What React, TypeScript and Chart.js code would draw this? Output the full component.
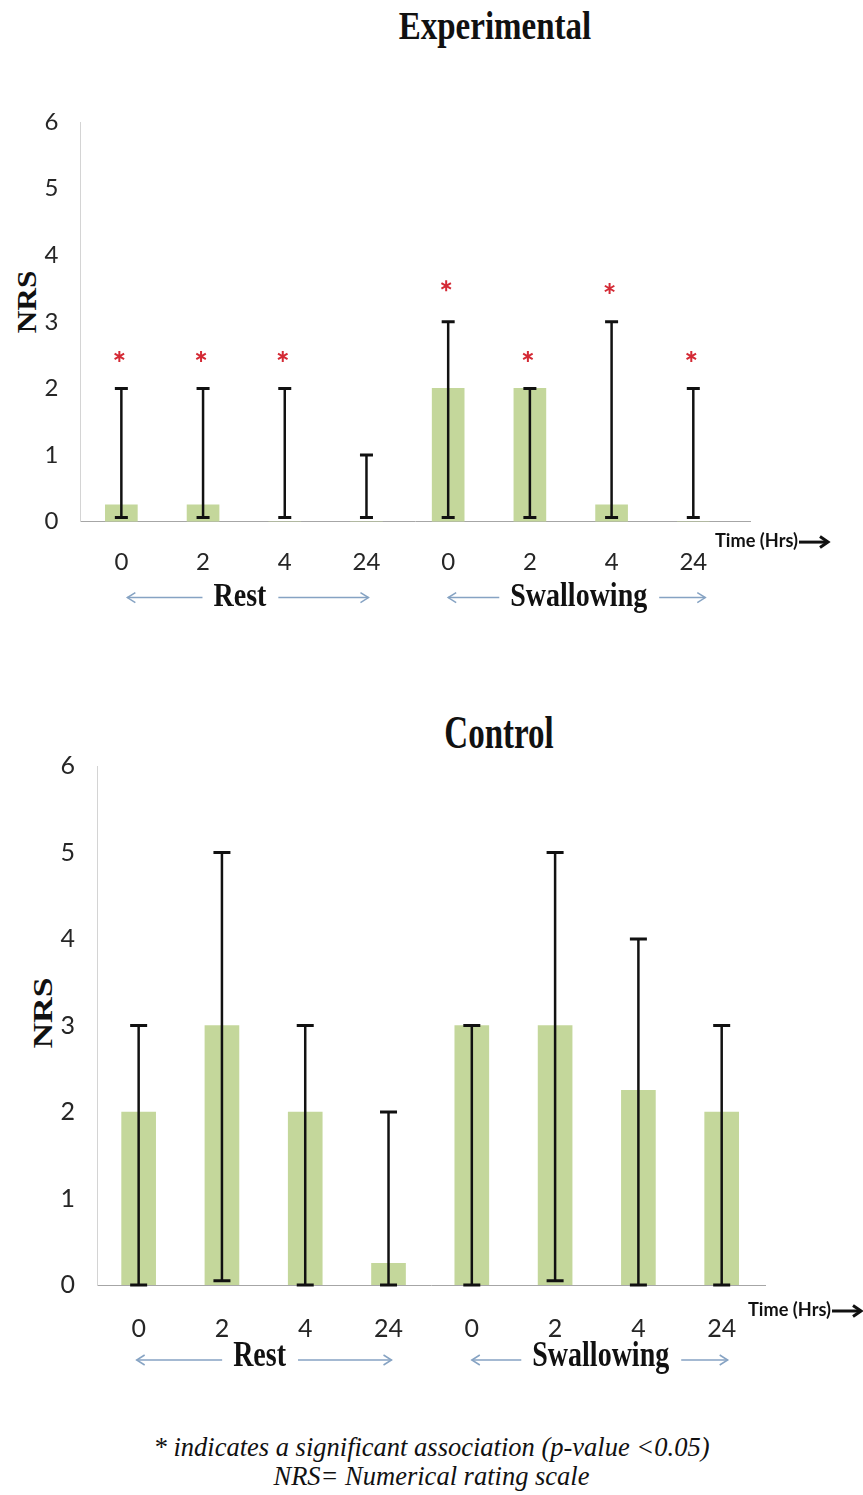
import React, { useEffect, useRef } from 'react';
import { Chart, registerables } from 'chart.js';

Chart.register(...registerables);

// ---------- data ----------
const timeLabels = ['0', '2', '4', '24', '0', '2', '4', '24'];
const groupNames = ['Rest', 'Swallowing'];
const groupStart = [0, 4];
const groupEnd = [3, 7];
const yTickValues = [0, 1, 2, 3, 4, 5, 6];

const expMeans = [0.25, 0.25, 0, 0, 2, 2, 0.25, 0];
const expErrLow = [0.06, 0.06, 0.06, 0.06, 0.06, 0.06, 0.06, 0.06];
const expErrHigh = [2, 2, 2, 1, 3, 2, 3, 2];
const expStars: (number | null)[] = [2.48, 2.48, 2.48, null, 3.54, 2.48, 3.5, 2.48];

const ctrlMeans = [2, 3, 2, 0.25, 3, 3, 2.25, 2];
const ctrlErrLow = [0, 0.05, 0, 0, 0, 0.05, 0, 0];
const ctrlErrHigh = [3, 5, 3, 2, 3, 5, 4, 3];
const ctrlStars: (number | null)[] = [null, null, null, null, null, null, null, null];

// ---------- styling / layout ----------
const BAR_COLOR = '#c4d79b';
const ARROW_COLOR = '#86a3c3';
const STAR_COLOR = '#d42a35';

type PanelCfg = {
  name: string;
  top: number;
  height: number;
  plotLeft: number;
  plotTop: number;
  plotBottom: number;
  plotRight: number;
  xMax: number;
  means: number[];
  low: number[];
  high: number[];
  stars: (number | null)[];
  barWidth: number;
  capWidth: number;
  tickFont: number;
  tickPadX: number;
  tickPadY: number;
  groupDx: number[];
  tipL: number[];
  tipR: number[];
  groupTextDy: number;
  groupArrowDy: number;
  groupScaleY: number;
  timeDx: number;
  timeDy: number;
};

const W = 863;

const expCfg: PanelCfg = {
  name: 'exp',
  top: 100,
  height: 520,
  plotLeft: 80.5,
  plotTop: 22,
  plotBottom: 421.6,
  plotRight: 750,
  xMax: 7.694,
  means: expMeans,
  low: expErrLow,
  high: expErrHigh,
  stars: expStars,
  barWidth: 32,
  capWidth: 13,
  tickFont: 24,
  tickPadX: 26,
  tickPadY: 22,
  groupDx: [-4, 8],
  tipL: [6, 0],
  tipR: [2, 12],
  groupTextDy: 74,
  groupArrowDy: 76,
  groupScaleY: 1.2,
  timeDx: -35,
  timeDy: 19.5,
};

const ctrlCfg: PanelCfg = {
  name: 'ctrl',
  top: 740,
  height: 660,
  plotLeft: 97,
  plotTop: 26,
  plotBottom: 545,
  plotRight: 765,
  xMax: 7.52,
  means: ctrlMeans,
  low: ctrlErrLow,
  high: ctrlErrHigh,
  stars: ctrlStars,
  barWidth: 34,
  capWidth: 17,
  tickFont: 25,
  tickPadX: 29,
  tickPadY: 22,
  groupDx: [-4, 4],
  tipL: [-2, 0],
  tipR: [3, 6],
  groupTextDy: 70,
  groupArrowDy: 75,
  groupScaleY: 1.25,
  timeDx: -17,
  timeDy: 25,
};

function drawArrowHead(ctx: CanvasRenderingContext2D, x: number, y: number, dir: number, len: number, half: number) {
  ctx.beginPath();
  ctx.moveTo(x - dir * len, y - half);
  ctx.lineTo(x, y);
  ctx.lineTo(x - dir * len, y + half);
  ctx.stroke();
}

function makePlugin(cfg: PanelCfg) {
  return {
    id: 'annot_' + cfg.name,
    afterDatasetsDraw(chart: any) {
      const { ctx, chartArea } = chart;
      const xs = chart.scales.x;
      const ys = chart.scales.y;
      ctx.save();

      // error bars
      ctx.strokeStyle = '#111111';
      cfg.low.forEach((lo, i) => {
        const px = xs.getPixelForValue(i);
        const yl = ys.getPixelForValue(lo);
        const yh = ys.getPixelForValue(cfg.high[i]);
        ctx.lineWidth = 2.5;
        ctx.beginPath();
        ctx.moveTo(px, yl);
        ctx.lineTo(px, yh);
        ctx.stroke();
        ctx.lineWidth = 3;
        ctx.beginPath();
        ctx.moveTo(px - cfg.capWidth / 2, yl);
        ctx.lineTo(px + cfg.capWidth / 2, yl);
        ctx.moveTo(px - cfg.capWidth / 2, yh);
        ctx.lineTo(px + cfg.capWidth / 2, yh);
        ctx.stroke();
      });

      // significance stars
      ctx.strokeStyle = STAR_COLOR;
      ctx.lineWidth = 2;
      cfg.stars.forEach((s, i) => {
        if (s === null) return;
        const px = xs.getPixelForValue(i) - 2;
        const py = ys.getPixelForValue(s);
        const r = 5.5;
        ctx.beginPath();
        for (let k = 0; k < 3; k++) {
          const a = Math.PI / 2 + (k * Math.PI) / 3;
          ctx.moveTo(px + r * Math.cos(a), py + r * Math.sin(a));
          ctx.lineTo(px - r * Math.cos(a), py - r * Math.sin(a));
        }
        ctx.stroke();
      });

      // group labels with arrows
      ctx.font = 'bold 28px "Liberation Serif", "Times New Roman", serif';
      groupNames.forEach((g, gi) => {
        const x0 = xs.getPixelForValue(groupStart[gi]);
        const x1 = xs.getPixelForValue(groupEnd[gi]);
        const cx = (x0 + x1) / 2 + cfg.groupDx[gi];
        const w = ctx.measureText(g).width;
        const ty = chartArea.bottom + cfg.groupTextDy;
        const ay = chartArea.bottom + cfg.groupArrowDy;
        ctx.save();
        ctx.translate(cx, ty);
        ctx.scale(1, cfg.groupScaleY);
        ctx.fillStyle = '#111111';
        ctx.textAlign = 'center';
        ctx.textBaseline = 'alphabetic';
        ctx.fillText(g, 0, 9);
        ctx.restore();

        ctx.strokeStyle = ARROW_COLOR;
        ctx.lineWidth = 1.5;
        const lTip = x0 + cfg.tipL[gi];
        const lTail = cx - w / 2 - 11;
        const rTail = cx + w / 2 + 12;
        const rTip = x1 + cfg.tipR[gi];
        ctx.beginPath();
        ctx.moveTo(lTip, ay);
        ctx.lineTo(lTail, ay);
        ctx.moveTo(rTail, ay);
        ctx.lineTo(rTip, ay);
        ctx.stroke();
        drawArrowHead(ctx, lTip, ay, -1, 8, 5);
        drawArrowHead(ctx, rTip, ay, 1, 8, 5);
      });

      // Time (Hrs) -> label
      const tx = chartArea.right + cfg.timeDx;
      const ty = chartArea.bottom + cfg.timeDy;
      ctx.font = 'bold 19px Lato, "Open Sans", sans-serif';
      ctx.fillStyle = '#111111';
      ctx.textAlign = 'left';
      ctx.textBaseline = 'middle';
      ctx.fillText('Time (Hrs)', tx, ty, 83);
      ctx.strokeStyle = '#111111';
      ctx.lineWidth = 3;
      ctx.beginPath();
      ctx.moveTo(tx + 84, ty + 1);
      ctx.lineTo(tx + 112, ty + 1);
      ctx.stroke();
      drawArrowHead(ctx, tx + 113, ty + 1, 1, 8, 5.5);

      ctx.restore();
    },
  };
}

function Panel({ cfg }: { cfg: PanelCfg }) {
  const ref = useRef<HTMLCanvasElement | null>(null);
  useEffect(() => {
    if (!ref.current) return;
    const tickFont = { family: 'Lato, "Open Sans", sans-serif', size: cfg.tickFont };
    const chart = new Chart(ref.current, {
      type: 'bar',
      data: {
        datasets: [
          {
            data: cfg.means.map((v, i) => ({ x: i, y: v })),
            backgroundColor: BAR_COLOR,
            borderWidth: 0,
            barThickness: cfg.barWidth,
          } as any,
        ],
      },
      options: {
        responsive: false,
        maintainAspectRatio: false,
        animation: false,
        layout: {
          padding: {
            left: 0,
            top: cfg.plotTop,
            right: W - cfg.plotRight,
            bottom: 0,
          },
        },
        plugins: {
          legend: { display: false },
          tooltip: { enabled: false },
          title: { display: false },
        },
        scales: {
          x: {
            type: 'linear',
            offset: false,
            min: -0.5,
            max: cfg.xMax,
            afterBuildTicks: (axis: any) => {
              axis.ticks = timeLabels.map((_, i) => ({ value: i }));
            },
            afterFit: (s: any) => {
              s.height = cfg.height - cfg.plotBottom;
              s.paddingLeft = 0;
              s.paddingRight = 0;
            },
            ticks: {
              autoSkip: false,
              maxRotation: 0,
              padding: cfg.tickPadX,
              color: '#262626',
              font: tickFont,
              callback: (v: any) => timeLabels[Math.round(Number(v))] ?? '',
            },
            grid: { display: false, drawTicks: false, offset: false },
            border: { display: true, color: '#a6a6a6', width: 1 },
          },
          y: {
            type: 'linear',
            min: yTickValues[0],
            max: yTickValues[yTickValues.length - 1],
            afterBuildTicks: (axis: any) => {
              axis.ticks = yTickValues.map((v) => ({ value: v }));
            },
            afterFit: (s: any) => {
              s.width = cfg.plotLeft;
              s.paddingTop = 0;
              s.paddingBottom = 0;
            },
            ticks: {
              padding: cfg.tickPadY,
              color: '#262626',
              font: tickFont,
            },
            grid: { display: false, drawTicks: false },
            border: { display: true, color: '#d4d4d4', width: 1 },
          },
        },
      } as any,
      plugins: [makePlugin(cfg)],
    });
    return () => chart.destroy();
  }, [cfg]);

  return (
    <canvas
      ref={ref}
      width={W}
      height={cfg.height}
      style={{ position: 'absolute', left: 0, top: cfg.top, width: W, height: cfg.height }}
    />
  );
}

const serifBold: React.CSSProperties = {
  position: 'absolute',
  fontFamily: '"Liberation Serif", "Times New Roman", serif',
  fontWeight: 'bold',
  lineHeight: 1,
  whiteSpace: 'nowrap',
  color: '#111111',
};

export default function App() {
  return (
    <div style={{ position: 'absolute', left: 0, top: 0, width: W, height: 1495, background: '#ffffff' }}>
      <div
        style={{
          ...serifBold,
          left: 495,
          top: 25.5,
          fontSize: 33,
          transform: 'translate(-50%, -50%) scale(1, 1.22)',
        }}
      >
        Experimental
      </div>
      <div
        style={{
          ...serifBold,
          left: 27,
          top: 302,
          fontSize: 28,
          transform: 'translate(-50%, -50%) rotate(-90deg) scale(1.12, 1)',
        }}
      >
        NRS
      </div>
      <Panel cfg={expCfg} />

      <div
        style={{
          ...serifBold,
          left: 499,
          top: 732.5,
          fontSize: 33,
          transform: 'translate(-50%, -50%) scale(1, 1.4)',
        }}
      >
        Control
      </div>
      <div
        style={{
          ...serifBold,
          left: 42.5,
          top: 1012.5,
          fontSize: 28,
          transform: 'translate(-50%, -50%) rotate(-90deg) scale(1.27, 1)',
        }}
      >
        NRS
      </div>
      <Panel cfg={ctrlCfg} />

      <div
        style={{
          position: 'absolute',
          left: 0,
          top: 1433,
          width: W,
          textAlign: 'center',
          fontFamily: '"Liberation Serif", "Times New Roman", serif',
          fontStyle: 'italic',
          fontSize: 26.5,
          lineHeight: '29px',
          color: '#111111',
        }}
      >
        <div>* indicates a significant association (p-value &lt;0.05)</div>
        <div>NRS= Numerical rating scale</div>
      </div>
    </div>
  );
}
